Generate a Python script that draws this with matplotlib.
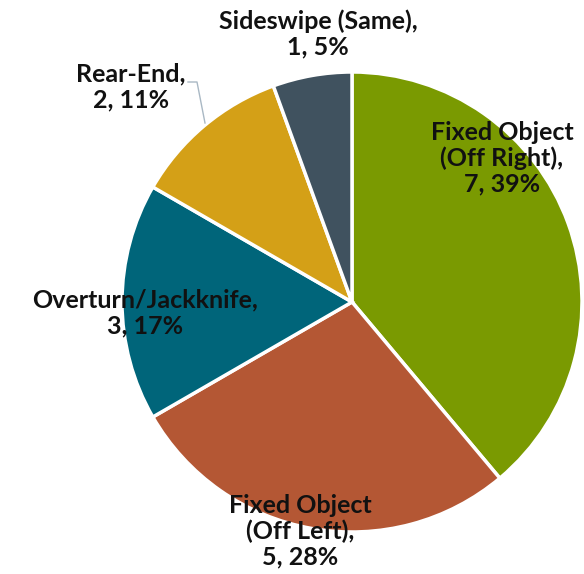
import matplotlib
matplotlib.use("Agg")
import matplotlib.pyplot as plt

categories = ["Fixed Object\n(Off Right)", "Fixed Object\n(Off Left)", "Overturn/Jackknife",
              "Rear-End", "Sideswipe (Same)"]
counts = [7, 5, 3, 2, 1]
percents = [39, 28, 17, 11, 5]
colors = ["#7a9a01", "#b45734", "#00657a", "#d4a017", "#40525f"]

# label centres in pixels (x, y from top)
label_pos = [(502, 158), (300, 531), (145, 313), (131, 87), (318, 34)]

fig = plt.figure(figsize=(5.84, 5.74), dpi=100)
ax = fig.add_axes([0, 0, 1, 1])

cx, cy, r = 352, 574 - 302, 230
ax.pie(counts, colors=colors, startangle=90, counterclock=False,
       center=(cx, cy), radius=r, frame=True,
       wedgeprops=dict(edgecolor="white", linewidth=2.5))
ax.set_xlim(0, 584)
ax.set_ylim(0, 574)
ax.set_aspect("equal")
ax.axis("off")

for cat, n, p, (lx, ly) in zip(categories, counts, percents, label_pos):
    txt = "%s,\n%d, %d%%" % (cat, n, p)
    ax.text(lx, 574 - ly, txt, ha="center", va="center", fontsize=18,
            fontweight="bold", family="Lato", color="#111111", linespacing=1.12)

# leader line for Rear-End
ax.plot([188, 197, 205], [574 - 82, 574 - 82, 574 - 123], color="#a9b8c4", lw=1)

fig.savefig("out.png", dpi=100)
